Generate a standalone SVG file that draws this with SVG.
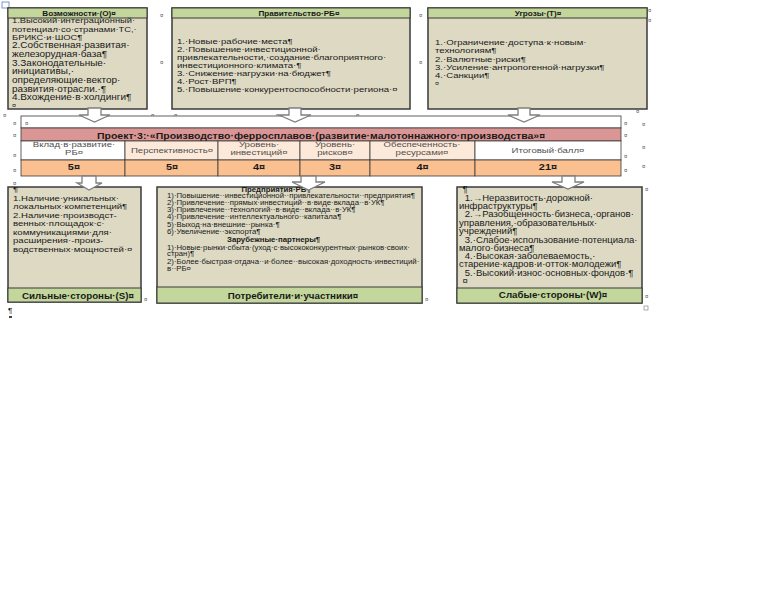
<svg xmlns="http://www.w3.org/2000/svg" width="767" height="614" viewBox="0 0 767 614">
<style>
.body{fill:#DDD9C3;stroke:#3a3a3a;stroke-width:1.5}
.green{fill:#C3D69B;stroke:#3a3a3a;stroke-width:1}
.t{font-family:"Liberation Sans",Arial,sans-serif;fill:#1a1a1a}
.b{font-weight:bold}
.hd{font-family:"Liberation Sans",Arial,sans-serif;fill:#505050}
.mk{font-family:"Liberation Sans",Arial,sans-serif;font-size:6px;fill:#555}
.cell{stroke:#3a3a3a;stroke-width:0.8}
.arrow{fill:#ffffff;stroke:#7f7f7f;stroke-width:1.3;stroke-linejoin:miter}
</style>
<rect x="0" y="0" width="767" height="614" fill="#ffffff"/>

<!-- margin marks -->
<g id="marks">
<rect x="2" y="2" width="7" height="6" fill="none" stroke="#5b7fc0" stroke-width="0.8"/>
<text class="mk" x="160" y="17">¤</text>
<text class="mk" x="160" y="64">¤</text>
<text class="mk" x="419" y="17">¤</text>
<text class="mk" x="419" y="64">¤</text>
<text class="mk" x="648" y="12">¤</text>
<text class="mk" x="648" y="22">¤</text>
<text class="mk" x="3" y="117">¤</text>
<text class="mk" x="151" y="117">¤</text>
<text class="mk" x="174" y="117">¤</text>
<text class="mk" x="276" y="117">¤</text>
<text class="mk" x="356" y="117">¤</text>
<text class="mk" x="13" y="125">¤</text>
<text class="mk" x="13" y="137">¤</text>
<text class="mk" x="13" y="157">¤</text>
<text class="mk" x="13" y="172">¤</text>
<text class="mk" x="624" y="125">¤</text>
<text class="mk" x="624" y="137">¤</text>
<text class="mk" x="624" y="158">¤</text>
<text class="mk" x="624" y="172">¤</text>
<text class="mk" x="636" y="113">¤</text>
<text class="mk" x="642" y="126">¤</text>
<text class="mk" x="642" y="149">¤</text>
<text class="mk" x="642" y="168">¤</text>
<text class="mk" x="13" y="185">¤</text>
<text class="mk" x="144" y="301">¤</text>
<text class="mk" x="425" y="301">¤</text>
<text class="mk" x="645" y="191">¤</text>
<text class="mk" x="645" y="298">¤</text>
<rect x="644" y="306" width="4" height="4" fill="none" stroke="#777" stroke-width="0.6"/>
<text class="t" x="8" y="313" font-size="8">¶</text>
<rect x="9" y="316" width="3" height="2" fill="#444"/>
</g>

<!-- Top box 1 -->
<g id="node-opportunities">
<rect class="body" x="8" y="8" width="139" height="101"/>
<rect class="green" x="8" y="8" width="139" height="10"/>
<g transform="translate(79,15.5) scale(1.2,1)"><text class="t b" x="0" y="0" font-size="6.8" text-anchor="middle">Возможности·(О)¤</text></g>
<g transform="translate(12,0) scale(1.3,1)">
<text class="t" font-size="7.2"><tspan x="0" y="23">1.Высокий·интеграционный·</tspan><tspan x="0" y="32">потенциал·со·странами·ТС,·</tspan><tspan x="0" y="40">БРИКС·и·ШОС¶</tspan></text>
</g>
<g transform="translate(12,0) scale(1.22,1)">
<text class="t" font-size="8.2"><tspan x="0" y="48.5">2.Собственная·развитая·</tspan><tspan x="0" y="57">железорудная·база¶</tspan><tspan x="0" y="66">3.Законодательные·</tspan><tspan x="0" y="74.5">инициативы,·</tspan><tspan x="0" y="83.5">определяющие·вектор·</tspan><tspan x="0" y="92">развития·отрасли.·¶</tspan><tspan x="0" y="100.5">4.Вхождение·в·холдинги¶</tspan></text>
<text class="t" font-size="6" x="0" y="107.5">¤</text>
</g>
</g>

<!-- Top box 2 -->
<g id="node-government">
<rect class="body" x="172" y="8" width="238" height="101"/>
<rect class="green" x="172" y="8" width="238" height="10"/>
<g transform="translate(299,15.5) scale(1.2,1)"><text class="t b" x="0" y="0" font-size="6.8" text-anchor="middle">Правительство·РБ¤</text></g>
<g transform="translate(177,0) scale(1.2,1)">
<text class="t" font-size="8"><tspan x="0" y="44.5">1.·Новые·рабочие·места¶</tspan><tspan x="0" y="52.3">2.·Повышение·инвестиционной·</tspan><tspan x="0" y="60">привлекательности,·создание·благоприятного·</tspan><tspan x="0" y="68">инвестиционного·климата·¶</tspan><tspan x="0" y="76">3.·Снижение·нагрузки·на·бюджет¶</tspan><tspan x="0" y="84">4.·Рост·ВРП¶</tspan><tspan x="0" y="92">5.·Повышение·конкурентоспособности·региона·¤</tspan></text>
</g>
</g>

<!-- Top box 3 -->
<g id="node-threats">
<rect class="body" x="428" y="8" width="219" height="101"/>
<rect class="green" x="428" y="8" width="219" height="10"/>
<g transform="translate(538,15.5) scale(1.2,1)"><text class="t b" x="0" y="0" font-size="6.8" text-anchor="middle">Угрозы·(Т)¤</text></g>
<g transform="translate(435,0) scale(1.2,1)">
<text class="t" font-size="8"><tspan x="0" y="45.5">1.·Ограничение·доступа·к·новым·</tspan><tspan x="0" y="53.5">технологиям¶</tspan><tspan x="0" y="62">2.·Валютные·риски¶</tspan><tspan x="0" y="70">3.·Усиление·антропогенной·нагрузки¶</tspan><tspan x="0" y="78">4.·Санкции¶</tspan></text>
<text class="t" font-size="6" x="0" y="85.5">¤</text>
</g>
</g>

<!-- Project table -->
<g id="node-project">
<rect x="21" y="116" width="600" height="12" fill="#ffffff" class="cell"/>
<text class="mk" x="25" y="125">¤</text>
<rect x="21" y="128" width="600" height="13" fill="#DA9694" class="cell"/>
<text class="t b" x="321" y="138.5" font-size="9.5" text-anchor="middle" textLength="448" lengthAdjust="spacingAndGlyphs">Проект·3:·«Производство·ферросплавов·(развитие·малотоннажного·производства»¤</text>
<rect x="21" y="141" width="104" height="19" fill="#ffffff" class="cell"/>
<rect x="125" y="141" width="93" height="19" fill="#FDE9D9" class="cell"/>
<rect x="218" y="141" width="82" height="19" fill="#FDE9D9" class="cell"/>
<rect x="300" y="141" width="70" height="19" fill="#FDE9D9" class="cell"/>
<rect x="370" y="141" width="105" height="19" fill="#FDE9D9" class="cell"/>
<rect x="475" y="141" width="146" height="19" fill="#ffffff" class="cell"/>
<rect x="21" y="160" width="104" height="16" fill="#FAC090" class="cell"/>
<rect x="125" y="160" width="93" height="16" fill="#FAC090" class="cell"/>
<rect x="218" y="160" width="82" height="16" fill="#FAC090" class="cell"/>
<rect x="300" y="160" width="70" height="16" fill="#FAC090" class="cell"/>
<rect x="370" y="160" width="105" height="16" fill="#FAC090" class="cell"/>
<rect x="475" y="160" width="146" height="16" fill="#FAC090" class="cell"/>
<g transform="translate(74,0) scale(1.2,1)"><text class="hd" font-size="8" text-anchor="middle"><tspan x="0" y="147.5">Вклад·в·развитие·</tspan><tspan x="0" y="155">РБ¤</tspan></text></g>
<g transform="translate(172,0) scale(1.2,1)"><text class="hd" font-size="8" text-anchor="middle" x="0" y="153.5">Перспективность¤</text></g>
<g transform="translate(259,0) scale(1.2,1)"><text class="hd" font-size="8" text-anchor="middle"><tspan x="0" y="147.5">Уровень·</tspan><tspan x="0" y="155">инвестиций¤</tspan></text></g>
<g transform="translate(335,0) scale(1.2,1)"><text class="hd" font-size="8" text-anchor="middle"><tspan x="0" y="147.5">Уровень·</tspan><tspan x="0" y="155">рисков¤</tspan></text></g>
<g transform="translate(422,0) scale(1.2,1)"><text class="hd" font-size="8" text-anchor="middle"><tspan x="0" y="147.5">Обеспеченность·</tspan><tspan x="0" y="155">ресурсами¤</tspan></text></g>
<g transform="translate(548,0) scale(1.2,1)"><text class="hd" font-size="8" text-anchor="middle" x="0" y="153.5">Итоговый·балл¤</text></g>
<g transform="scale(1.15,1)">
<text class="t b" font-size="9.5" text-anchor="middle" y="170.5"><tspan x="64.3">5¤</tspan><tspan x="149.6" y="170.5">5¤</tspan><tspan x="225.2" y="170.5">4¤</tspan><tspan x="291.3" y="170.5">3¤</tspan><tspan x="367.4" y="170.5">4¤</tspan><tspan x="476.5" y="170.5">21¤</tspan></text>
</g>
</g>

<!-- Bottom box S -->
<g id="node-strengths">
<rect class="body" x="8" y="187" width="133" height="115"/>
<rect class="green" x="8" y="288" width="133" height="14"/>
<g transform="translate(78,299) scale(1.15,1)"><text class="t b" x="0" y="0" font-size="8.5" text-anchor="middle">Сильные·стороны·(S)¤</text></g>
<g transform="translate(13,0) scale(1.2,1)">
<text class="t" font-size="8"><tspan x="0" y="192.5">¶</tspan><tspan x="0" y="201">1.Наличие·уникальных·</tspan><tspan x="0" y="209.5">локальных·компетенций¶</tspan><tspan x="0" y="218">2.Наличие·производст-</tspan><tspan x="0" y="226.5">венных·площадок·с·</tspan><tspan x="0" y="235">коммуникациями·для·</tspan><tspan x="0" y="243.5">расширения·-произ-</tspan><tspan x="0" y="252">водственных·мощностей·¤</tspan></text>
</g>
</g>

<!-- Bottom box P -->
<g id="node-consumers">
<rect class="body" x="157" y="187" width="265" height="116"/>
<rect class="green" x="157" y="287" width="265" height="16"/>
<g transform="translate(293,298.5) scale(1.15,1)"><text class="t b" x="0" y="0" font-size="8.5" text-anchor="middle">Потребители·и·участники¤</text></g>
<g transform="translate(276,0) scale(1.2,1)">
<text class="t b" font-size="6.5" text-anchor="middle"><tspan x="0" y="192">Предприятия·РБ¶</tspan><tspan x="-2" y="242">Зарубежные·партнеры¶</tspan></text>
</g>
<g transform="translate(167,0) scale(1.2,1)">
<text class="t" font-size="6.5"><tspan x="0" y="198">1)·Повышение··инвестиционной··привлекательности··предприятия¶</tspan><tspan x="0" y="205">2)·Привлечение··прямых·инвестиций··в·виде·вклада··в·УК¶</tspan><tspan x="0" y="212">3)·Привлечение··технологий··в·виде··вклада··в·УК¶</tspan><tspan x="0" y="219.5">4)·Привлечение··интеллектуального··капитала¶</tspan><tspan x="0" y="227">5)·Выход·на·внешние··рынка·¶</tspan><tspan x="0" y="234.5">6)·Увеличение··экспорта¶</tspan><tspan x="0" y="249.7">1)·Новые·рынки·сбыта·(уход·с·высококонкурентных·рынков·своих·</tspan><tspan x="0" y="256.5">стран)¶</tspan><tspan x="0" y="264">2)·Более·быстрая·отдача··и·более··высокая·доходность·инвестиций·</tspan><tspan x="0" y="271">в··РБ¤</tspan></text>
</g>
</g>

<!-- Bottom box W -->
<g id="node-weaknesses">
<rect class="body" x="457" y="187" width="185" height="116"/>
<rect class="green" x="457" y="288" width="185" height="15"/>
<g transform="translate(553,297.5) scale(1.15,1)"><text class="t b" x="0" y="0" font-size="8.5" text-anchor="middle">Слабые·стороны·(W)¤</text></g>
<g transform="translate(459,0) scale(1.16,1)">
<text class="t" font-size="8.2"><tspan x="3" y="192.5">¶</tspan><tspan x="5" y="201.5">1.→Неразвитость·дорожной·</tspan><tspan x="0" y="209.5">инфраструктуры¶</tspan><tspan x="5" y="217.5">2.→Разобщенность·бизнеса,·органов·</tspan><tspan x="0" y="226.5">управления,·образовательных·</tspan><tspan x="0" y="234.5">учреждений¶</tspan><tspan x="5" y="243.5">3.·Слабое·использование·потенциала·</tspan><tspan x="0" y="251.5">малого·бизнеса¶</tspan><tspan x="5" y="259.5">4.·Высокая·заболеваемость,·</tspan><tspan x="0" y="267.5">старение·кадров·и·отток·молодежи¶</tspan><tspan x="5" y="276.5">5.·Высокий·износ·основных·фондов·¶</tspan><tspan x="3" y="284.5">¤</tspan></text>
</g>
</g>

<!-- Connectors (block arrows) -->
<g id="connectors">
<polygon class="arrow" points="88,108 101,108 101,115 110,115 94.5,122 79,115 88,115"/>
<polygon class="arrow" points="289,108 301,108 301,115 311,115 295,122 279,115 289,115"/>
<polygon class="arrow" points="518,108 530,108 530,115 540,115 524,122 508,115 518,115"/>
<polygon class="arrow" points="82,176 96,176 96,183 102,183 89,190 77,183 82,183"/>
<polygon class="arrow" points="301,176 316,176 316,182 325,182 308.5,190 292,182 301,182"/>
<polygon class="arrow" points="562,176 575,176 575,182 584,182 568,189 552,182 562,182"/>
</g>
</svg>
